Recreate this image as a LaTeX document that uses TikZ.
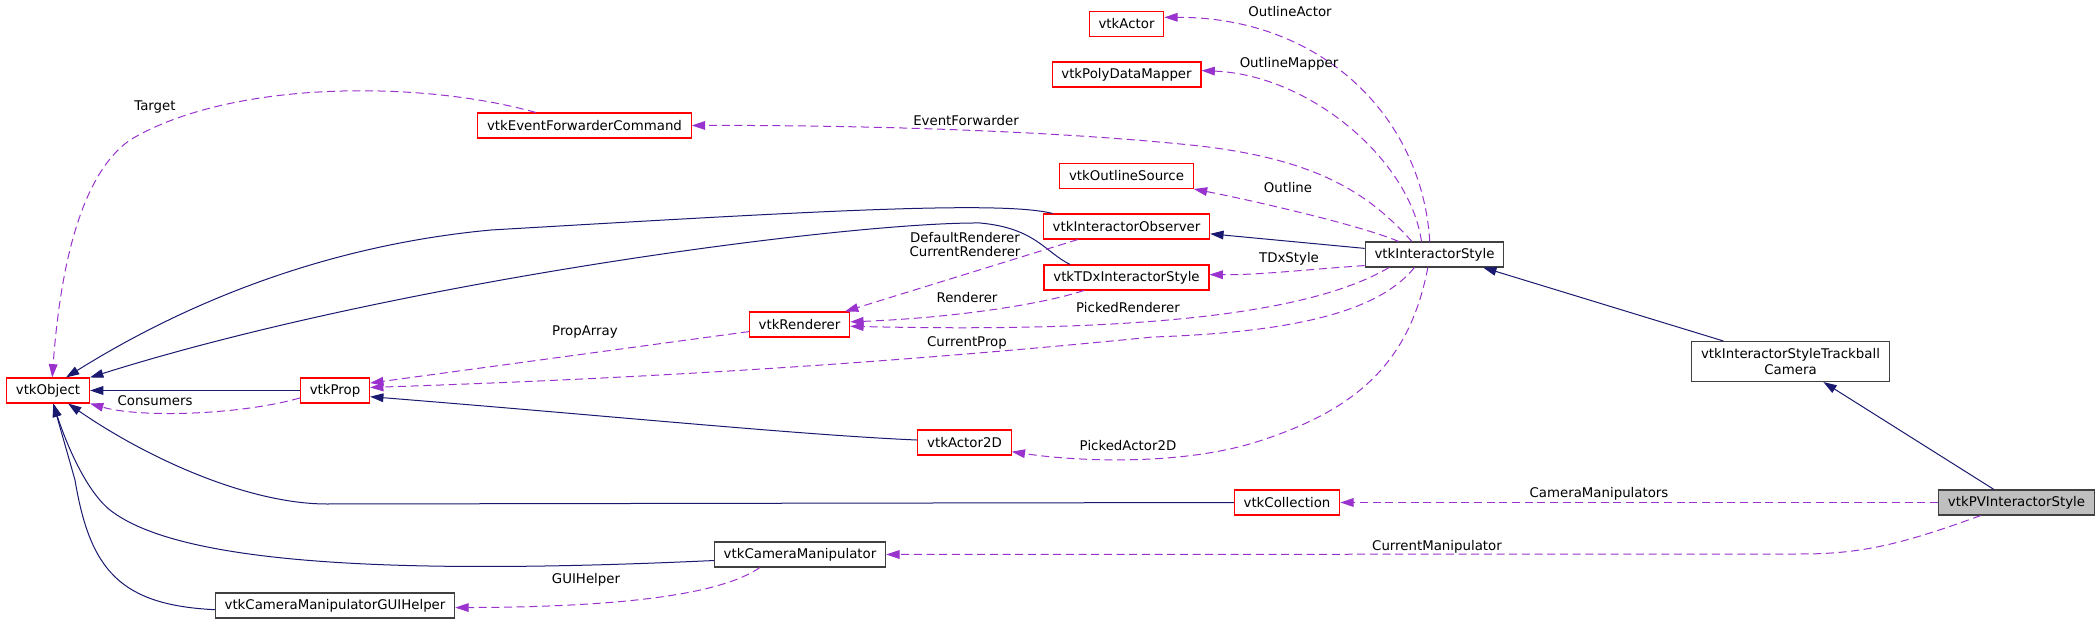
\documentclass[tikz,border=0pt]{standalone}
\usepackage{fontspec}
\setmainfont{DejaVu Sans}
\usetikzlibrary{arrows.meta}
\definecolor{inhblue}{RGB}{25,25,112}
\definecolor{usepurple}{RGB}{154,50,205}
\definecolor{boxgray}{RGB}{64,64,64}
\definecolor{mainfill}{RGB}{191,191,191}
\begin{document}
\begin{tikzpicture}[x=0.75pt, y=-0.75pt, >={Triangle[length=10pt,width=6.5pt]},
	every node/.style={font=\fontsize{10}{11.5}\selectfont},
	cls/.style={draw=red, line width=0.8pt, fill=white, inner xsep=7pt, inner ysep=0pt, minimum height=18.75pt},
	doc/.style={cls, draw=boxgray},
	inh/.style={->, inhblue, line width=0.75pt},
	use/.style={->, usepurple, line width=0.75pt, dash pattern=on 6pt off 3.5pt},
	lbl/.style={inner sep=0pt}]
	\useasboundingbox (0,0) rectangle (2100,624);
	
	% classes
	\node[cls] (vtkObject) at (48,390.5) {vtkObject};
	\node[cls] (vtkProp) at (335,390.5) {vtkProp};
	\node[cls] (vtkEventForwarderCommand) at (584.5,125.5) {vtkEventForwarderCommand};
	\node[cls] (vtkActor) at (1126.5,24) {vtkActor};
	\node[cls] (vtkPolyDataMapper) at (1126.5,74.5) {vtkPolyDataMapper};
	\node[cls] (vtkOutlineSource) at (1126.5,176) {vtkOutlineSource};
	\node[cls] (vtkInteractorObserver) at (1126.5,226.5) {vtkInteractorObserver};
	\node[cls] (vtkTDxInteractorStyle) at (1126.5,277.5) {vtkTDxInteractorStyle};
	\node[cls] (vtkRenderer) at (799.5,324.5) {vtkRenderer};
	\node[cls] (vtkActor2D) at (964.5,442.5) {vtkActor2D};
	\node[cls] (vtkCollection) at (1287,502.5) {vtkCollection};
	\node[doc] (vtkInteractorStyle) at (1434.5,254.5) {vtkInteractorStyle};
	\node[doc, align=center, minimum height=30pt] (vtkInteractorStyleTrackballCamera) at (1790.5,361.5) {vtkInteractorStyleTrackball\\Camera};
	\node[doc, fill=mainfill] (vtkPVInteractorStyle) at (2016.5,502.5) {vtkPVInteractorStyle};
	\node[doc] (vtkCameraManipulator) at (800,554.5) {vtkCameraManipulator};
	\node[doc] (vtkCameraManipulatorGUIHelper) at (335,605.5) {vtkCameraManipulatorGUIHelper};
	
	% inheritance
	\draw[inh] (vtkProp.west) -- (vtkObject.east);
	\draw[inh] (vtkInteractorObserver.170) .. controls (1000,200) and (800,212) .. (491,230) .. controls (330,245) and (190,300) .. (vtkObject.36);
	\draw[inh] (vtkTDxInteractorStyle.167) .. controls (1045,252) and (1035,228) .. (980,223) .. controls (850,222) and (400,280) .. (vtkObject.north east);
	\draw[inh] (vtkActor2D.177) .. controls (800,435) and (600,415) .. (vtkProp.-10);
	\draw[inh] (vtkCollection.west) -- (327,504) .. controls (250,504) and (150,460) .. (vtkObject.-33);
	\draw[inh] (vtkCameraManipulator.184) .. controls (400,575) and (180,565) .. (110,510) .. controls (85,490) and (65,440) .. (vtkObject.-68);
	\draw[inh] (vtkCameraManipulatorGUIHelper.182) .. controls (120,605) and (90,570) .. (75,480) -- (vtkObject.-68);
	\draw[inh] (vtkInteractorStyle.175) -- (vtkInteractorObserver.-5);
	\draw[inh] (vtkInteractorStyleTrackballCamera.163) -- (vtkInteractorStyle.-15);
	\draw[inh] (vtkPVInteractorStyle.150) -- (vtkInteractorStyleTrackballCamera.-32);
	
	% members
	\draw[use] (vtkEventForwarderCommand.165) .. controls (420,80) and (230,80) .. (130,140) .. controls (80,175) and (60,270) .. (vtkObject.72);
	\draw[use] (vtkProp.192) .. controls (240,415) and (140,418) .. (vtkObject.south east);
	\draw[use] (vtkRenderer.188) -- (vtkProp.12);
	\draw[use] (vtkInteractorStyle.110) .. controls (1422,115) and (1320,17) .. (vtkActor.10);
	\draw[use] (vtkInteractorStyle.135) .. controls (1410,160) and (1310,75) .. (vtkPolyDataMapper.3);
	\draw[use] (vtkInteractorStyle.150) .. controls (1370,195) and (1320,160) .. (1200,146) .. controls (1050,130) and (850,125) .. (vtkEventForwarderCommand.east);
	\draw[use] (vtkInteractorStyle.160) .. controls (1360,225) and (1250,200) .. (vtkOutlineSource.south east);
	\draw[use] (vtkInteractorObserver.195) -- (vtkRenderer.16);
	\draw[use] (vtkInteractorStyle.189) .. controls (1300,270) and (1260,275) .. (vtkTDxInteractorStyle.2);
	\draw[use] (vtkTDxInteractorStyle.197) .. controls (1040,305) and (950,318) .. (vtkRenderer.3);
	\draw[use] (vtkInteractorStyle.196) .. controls (1300,320) and (1100,332) .. (vtkRenderer.-2);
	\draw[use] (vtkInteractorStyle.213) .. controls (1380,310) and (1300,332) .. (1153,337) .. controls (1000,352) and (750,375) .. (vtkProp.5);
	\draw[use] (vtkInteractorStyle.243) .. controls (1410,360) and (1360,410) .. (1253,443) .. controls (1180,465) and (1080,462) .. (vtkActor2D.-11);
	\draw[use] (vtkPVInteractorStyle.west) -- (vtkCollection.east);
	\draw[use] (vtkPVInteractorStyle.200) .. controls (1900,545) and (1860,554) .. (1800,554) -- (vtkCameraManipulator.east);
	\draw[use] (vtkCameraManipulator.198) .. controls (720,595) and (620,607) .. (vtkCameraManipulatorGUIHelper.-1);
	
	% member names
	\node[lbl] (lTarget) at (155,107) {Target};
	\node[lbl] (lConsumers) at (155,400.5) {Consumers};
	\node[lbl] (lPropArray) at (585,332) {PropArray};
	\node[lbl] (lEventForwarder) at (966,121) {EventForwarder};
	\node[lbl] (lOutlineActor) at (1290,12) {OutlineActor};
	\node[lbl] (lOutlineMapper) at (1289,64) {OutlineMapper};
	\node[lbl] (lOutline) at (1288,188) {Outline};
	\node[lbl, align=center, font=\fontsize{10}{10.5}\selectfont] (lRenderers) at (965,245) {DefaultRenderer\\CurrentRenderer};
	\node[lbl] (lTDxStyle) at (1289,259) {TDxStyle};
	\node[lbl] (lRenderer) at (967,298) {Renderer};
	\node[lbl] (lPickedRenderer) at (1128,308) {PickedRenderer};
	\node[lbl] (lCurrentProp) at (967,343) {CurrentProp};
	\node[lbl] (lPickedActor2D) at (1128,446) {PickedActor2D};
	\node[lbl] (lCameraManipulators) at (1599,494) {CameraManipulators};
	\node[lbl] (lCurrentManipulator) at (1437,547) {CurrentManipulator};
	\node[lbl] (lGUIHelper) at (586,580) {GUIHelper};
\end{tikzpicture}
\end{document}
